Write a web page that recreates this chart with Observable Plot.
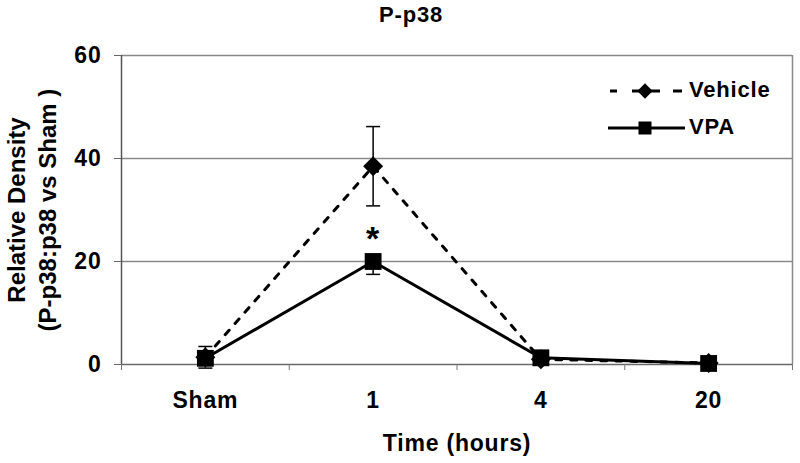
<!DOCTYPE html>
<html>
<head>
<meta charset="utf-8">
<script src="https://cdn.jsdelivr.net/npm/d3@7"></script>
<script src="https://cdn.jsdelivr.net/npm/@observablehq/plot@0.6"></script>
<style>
  html, body { margin: 0; padding: 0; background: #fff; }
  #chart svg text { font-family: "Liberation Sans", Arial, sans-serif; font-weight: bold; fill: #000; letter-spacing: 0.8px; }
</style>
</head>
<body>
<div id="chart"></div>
<script>
const categories = ["Sham", "1", "4", "20"];
const vehicleMean = [1.4, 38.5, 1.0, 0.3];
const vehicleErr  = [2.1, 7.7, 0.5, 0.3];
const vpaMean     = [1.2, 20.0, 1.3, 0.2];
const vpaErrLow   = [1.0, 2.5, 0.4, 0.2];
const yTicks = [0, 20, 40, 60];
const significance = [{cat: 1, y: 25.6, label: "*"}];
const title = "P-p38";
const yLabel1 = "Relative Density";
const yLabel2 = "(P-p38:p38 vs Sham )";
const xLabel = "Time (hours)";
const seriesNames = ["Vehicle", "VPA"];

const vehicle = categories.map((c, i) => ({i: i + 0.5, cat: c, v: vehicleMean[i], lo: vehicleMean[i] - vehicleErr[i], hi: vehicleMean[i] + vehicleErr[i]}));
const vpa = categories.map((c, i) => ({i: i + 0.5, cat: c, v: vpaMean[i], lo: vpaMean[i] - vpaErrLow[i], hi: vpaMean[i]}));

const cap = {
  draw(ctx, size) {
    const h = Math.sqrt(size / Math.PI);
    ctx.moveTo(-h, 0);
    ctx.lineTo(h, 0);
  }
};

const chart = Plot.plot({
  width: 800,
  height: 463,
  marginLeft: 121,
  marginRight: 8,
  marginTop: 55,
  marginBottom: 99,
  x: {type: "linear", domain: [0, categories.length], axis: null},
  y: {domain: [0, 60], axis: null},
  marks: [
    Plot.ruleY([20, 40, 60], {stroke: "#8a8a8a", strokeWidth: 1.5}),
    Plot.ruleX([categories.length], {y1: 0, y2: 60, stroke: "#8a8a8a", strokeWidth: 1.5}),
    Plot.ruleY([0], {stroke: "#6a6a6a", strokeWidth: 1.5}),
    Plot.ruleX([0], {y1: 0, y2: 60, stroke: "#555", strokeWidth: 1.5}),
    Plot.axisY({ticks: yTicks, tickSize: 7, tickPadding: 13, fontSize: 23, stroke: "#666", label: null}),
    Plot.axisX({ticks: d3.range(categories.length + 1), tickSize: 6, tickFormat: () => "", stroke: "#777", label: null}),
    Plot.axisX({ticks: categories.map((c, i) => i + 0.5), tickSize: 0, tickPadding: 27, fontSize: 23,
      tickFormat: (d) => categories[Math.floor(d)], label: null}),
    // Vehicle
    Plot.line(vehicle, {x: "i", y: "v", stroke: "#000", strokeWidth: 3, strokeDasharray: "6,9"}),
    Plot.ruleX(vehicle, {x: "i", y1: "lo", y2: "hi", stroke: "#000", strokeWidth: 1.5}),
    Plot.dot(vehicle, {x: "i", y: "hi", symbol: cap, r: 7, stroke: "#000", strokeWidth: 1.5}),
    Plot.dot(vehicle, {x: "i", y: "lo", symbol: cap, r: 7, stroke: "#000", strokeWidth: 1.5}),
    Plot.dot(vehicle, {x: "i", y: "v", symbol: "diamond2", r: 9, fill: "#000", stroke: "none"}),
    // VPA
    Plot.line(vpa, {x: "i", y: "v", stroke: "#000", strokeWidth: 3}),
    Plot.ruleX(vpa, {x: "i", y1: "lo", y2: "hi", stroke: "#000", strokeWidth: 1.5}),
    Plot.dot(vpa, {x: "i", y: "lo", symbol: cap, r: 7, stroke: "#000", strokeWidth: 1.5}),
    Plot.dot(vpa, {x: "i", y: "v", symbol: "square", r: 9.5, fill: "#000", stroke: "none"}),
    // significance
    Plot.text(significance, {x: (d) => d.cat + 0.5, y: "y", text: "label", fontSize: 34, lineAnchor: "middle", dy: 6}),
    // titles
    Plot.text([title], {frameAnchor: "top", dx: -46, dy: -34, fontSize: 22, lineAnchor: "bottom"}),
    Plot.text([xLabel], {frameAnchor: "bottom", dy: 86, fontSize: 23, lineAnchor: "bottom"}),
    Plot.text([yLabel1], {frameAnchor: "left", textAnchor: "middle", dx: -104, fontSize: 24, rotate: -90, lineAnchor: "middle"}),
    Plot.text([yLabel2], {frameAnchor: "left", textAnchor: "middle", dx: -73, fontSize: 24, rotate: -90, lineAnchor: "middle"})
  ]
});

document.getElementById("chart").appendChild(chart);

const svg = d3.select(chart);
svg.selectAll("text").filter(function () {
  return this.textContent === yLabel1 || this.textContent === yLabel2;
}).style("letter-spacing", "0px");

// legend drawn inside the plot area (top-right)
const lg = svg.append("g").attr("class", "legend");
const items = [
  {name: seriesNames[0], y: 91, x1: 610, x2: 682, dash: "7,15,28,13,9", symbol: d3.symbolDiamond2, size: 150},
  {name: seriesNames[1], y: 128, x1: 608, x2: 685, dash: null, symbol: d3.symbolSquare, size: 169}
];
items.forEach((it) => {
  const line = lg.append("line").attr("x1", it.x1).attr("x2", it.x2).attr("y1", it.y).attr("y2", it.y)
    .attr("stroke", "#000").attr("stroke-width", 3);
  if (it.dash) line.attr("stroke-dasharray", it.dash);
  lg.append("path").attr("d", d3.symbol(it.symbol, it.size)()).attr("transform", `translate(645,${it.y})`).attr("fill", "#000");
  lg.append("text").attr("x", 689).attr("y", it.y + 6).attr("text-anchor", "start")
    .attr("font-size", 22).text(it.name);
});
</script>
</body>
</html>
